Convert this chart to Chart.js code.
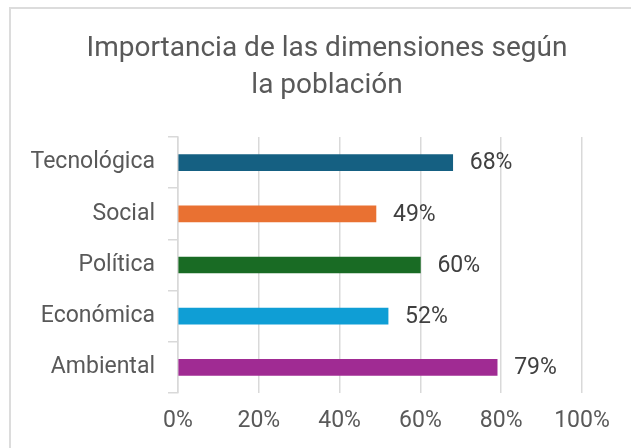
<!DOCTYPE html>
<html>
<head>
<meta charset="utf-8">
<script src="https://cdn.jsdelivr.net/npm/chart.js@4"></script>
<style>
    body { margin: 0; background: #fff; overflow: hidden; }
    #frame {
        position: absolute; left: 9px; top: 7px; width: 700px; height: 500px;
        border-top: 2px solid #dcdcdc; border-left: 2px solid #dcdcdc;
    }
    #wrap { position: absolute; left: 0; top: 0; width: 631px; height: 448px; }
</style>
</head>
<body>
<div id="frame"></div>
<div id="wrap"><canvas id="chart" width="631" height="448"></canvas></div>
<script>
// ==========================================
// Data
// ==========================================

const TITLE_LINES = ['Importancia de las dimensiones según', 'la población'];
const CATEGORIES = ['Tecnológica', 'Social', 'Política', 'Económica', 'Ambiental'];
const VALUES = [68, 49, 60, 52, 79];   // percent
const BAR_COLORS = ['#156082', '#E97132', '#196B24', '#0F9ED5', '#A02B93'];
const X_TICKS = [0, 20, 40, 60, 80, 100];

const FONT = 'Roboto, "Liberation Sans", sans-serif';
const GREY = '#595959';
const GRID = '#d9d9d9';

// title is centred on the whole frame, not on the plot, so draw it here
const frameTitle = {
    id: 'frameTitle',
    afterDraw(chart) {
        const ctx = chart.ctx;
        ctx.save();
        ctx.font = '28px ' + FONT;
        ctx.fillStyle = GREY;
        ctx.textAlign = 'center';
        ctx.textBaseline = 'middle';
        TITLE_LINES.forEach((line, i) => {
            ctx.fillText(line, 327, 49 + i * 37);
        });
        ctx.restore();
    }
};

// simple value labels at the end of each bar
const barLabels = {
    id: 'barLabels',
    afterDatasetsDraw(chart) {
        const ctx = chart.ctx;
        const meta = chart.getDatasetMeta(0);
        ctx.save();
        ctx.font = '23px ' + FONT;
        ctx.fillStyle = '#404040';
        ctx.textAlign = 'left';
        ctx.textBaseline = 'middle';
        meta.data.forEach((bar, i) => {
            ctx.fillText(VALUES[i] + '%', bar.x + 17, bar.y + 1);
        });
        ctx.restore();
    }
};

const ctx = document.getElementById('chart').getContext('2d');
new Chart(ctx, {
    type: 'bar',
    data: {
        labels: CATEGORIES,
        datasets: [{
            data: VALUES,
            backgroundColor: BAR_COLORS,
            barThickness: 16
        }]
    },
    options: {
        indexAxis: 'y',
        responsive: false,
        animation: false,
        layout: { padding: { left: 0, right: 49, top: 137, bottom: 0 } },
        plugins: {
            legend: { display: false },
            tooltip: { enabled: false },
            title: { display: false }
        },
        scales: {
            x: {
                min: 0,
                max: 100,
                afterBuildTicks: s => { s.ticks = X_TICKS.map(v => ({ value: v })); },
                afterFit: s => { s.height = 55; },
                border: { display: false },
                grid: { color: GRID, lineWidth: 1.5, drawTicks: false },
                ticks: {
                    color: GREY,
                    padding: 14,
                    font: { family: FONT, size: 23 },
                    callback: v => v + '%'
                }
            },
            y: {
                afterFit: s => { s.width = 178; },
                border: { display: true, color: GRID, width: 1.5 },
                grid: { color: GRID, drawOnChartArea: false, tickLength: 10, offset: true, lineWidth: 1.5 },
                ticks: {
                    color: GREY,
                    padding: 13,
                    font: { family: FONT, size: 23 }
                }
            }
        }
    },
    plugins: [barLabels, frameTitle]
});
</script>
</body>
</html>
